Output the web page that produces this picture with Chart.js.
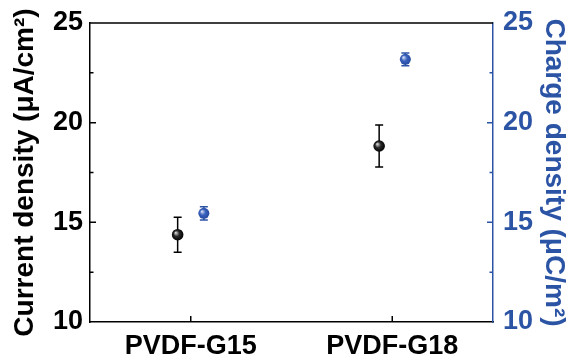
<!DOCTYPE html>
<html>
<head>
<meta charset="utf-8">
<script src="https://cdn.jsdelivr.net/npm/chart.js@4.4.0/dist/chart.umd.min.js"></script>
<style>
  html, body { margin: 0; padding: 0; background: #fff; }
  #wrap { width: 571px; height: 363px; }
</style>
</head>
<body>
<div id="wrap"><canvas id="chart"></canvas></div>
<script>
// values
const categories = ["PVDF-G15", "PVDF-G18"];
const currentDensity = [14.38, 18.83];
const currentError = [0.88, 1.05];
const chargeDensity = [15.45, 23.18];
const chargeError = [0.33, 0.32];
const yTicks = [10, 15, 20, 25];

const BLACK = "#000000";
const BLUE = "#2c54a5";
const SHIFT = 0.065; // side-by-side offset of the two series
const FONT = "'Liberation Sans', Arial, sans-serif";

const minorTicks = yTicks.slice(1).map((v, i) => (v + yTicks[i]) / 2);

function ballColor(light, mid, dark) {
  return function (ctx) {
    const chart = ctx.chart;
    if (!chart.chartArea || !ctx.raw) return mid;
    const yScale = chart.scales[ctx.dataset.yAxisID];
    const px = chart.scales.x.getPixelForValue(ctx.raw.x);
    const py = yScale.getPixelForValue(ctx.raw.y);
    const g = chart.ctx.createRadialGradient(px - 2, py - 2, 0.3, px, py, 6);
    g.addColorStop(0, light);
    g.addColorStop(0.45, mid);
    g.addColorStop(1, dark);
    return g;
  };
}

function fitY(width) {
  return (s) => {
    s.width = width;
    s.paddingTop = 0;
    s.paddingBottom = 0;
  };
}

// error bars, inward ticks and top frame
const extras = {
  id: "extras",
  beforeDatasetsDraw(chart) {
    const c = chart.ctx;
    const x = chart.scales.x;
    chart.data.datasets.forEach((ds) => {
      const ys = chart.scales[ds.yAxisID];
      c.save();
      c.strokeStyle = ds.errColor;
      c.lineWidth = 1.5;
      ds.data.forEach((p, i) => {
        const px = x.getPixelForValue(p.x);
        const top = ys.getPixelForValue(p.y + ds.err[i]);
        const bot = ys.getPixelForValue(p.y - ds.err[i]);
        c.beginPath();
        c.moveTo(px, top); c.lineTo(px, bot);
        c.moveTo(px - 4, top); c.lineTo(px + 4, top);
        c.moveTo(px - 4, bot); c.lineTo(px + 4, bot);
        c.stroke();
      });
      c.restore();
    });
  },
  afterDraw(chart) {
    const c = chart.ctx;
    const a = chart.chartArea;
    const y = chart.scales.y, y1 = chart.scales.y1, x = chart.scales.x;
    c.save();
    c.lineWidth = 1.5;
    c.strokeStyle = BLACK;
    c.beginPath();
    c.moveTo(a.left, a.top); c.lineTo(a.right, a.top);
    yTicks.slice(1, -1).forEach((v) => {
      const py = y.getPixelForValue(v);
      c.moveTo(a.left, py); c.lineTo(a.left + 6, py);
    });
    minorTicks.forEach((v) => {
      const py = y.getPixelForValue(v);
      c.moveTo(a.left, py); c.lineTo(a.left + 3.5, py);
    });
    categories.forEach((_, i) => {
      const px = x.getPixelForValue(i);
      c.moveTo(px, a.bottom); c.lineTo(px, a.bottom - 6);
    });
    c.stroke();
    c.strokeStyle = BLUE;
    c.beginPath();
    yTicks.slice(1, -1).forEach((v) => {
      const py = y1.getPixelForValue(v);
      c.moveTo(a.right, py); c.lineTo(a.right - 6, py);
    });
    minorTicks.forEach((v) => {
      const py = y1.getPixelForValue(v);
      c.moveTo(a.right, py); c.lineTo(a.right - 3.5, py);
    });
    c.stroke();
    c.restore();
  }
};

new Chart(document.getElementById("chart"), {
  type: "scatter",
  data: {
    datasets: [
      {
        label: "Current density",
        yAxisID: "y",
        data: currentDensity.map((v, i) => ({ x: i - SHIFT, y: v })),
        err: currentError,
        errColor: BLACK,
        pointRadius: 5.8,
        pointHoverRadius: 5.8,
        pointBorderWidth: 0,
        pointBackgroundColor: ballColor("#d8d8d8", "#2a2a2a", "#000000")
      },
      {
        label: "Charge density",
        yAxisID: "y1",
        data: chargeDensity.map((v, i) => ({ x: i + SHIFT, y: v })),
        err: chargeError,
        errColor: BLUE,
        pointRadius: 5.5,
        pointHoverRadius: 5.5,
        pointBorderWidth: 0,
        pointBackgroundColor: ballColor("#d6def4", "#3a62bd", "#22479c")
      }
    ]
  },
  options: {
    responsive: true,
    maintainAspectRatio: false,
    animation: false,
    layout: { padding: { top: 23, left: 0, right: 0, bottom: 0 } },
    plugins: { legend: { display: false }, tooltip: { enabled: false } },
    scales: {
      x: {
        type: "linear",
        min: -0.5,
        max: 1.5,
        afterBuildTicks: (s) => { s.ticks = categories.map((_, i) => ({ value: i })); },
        afterFit: (s) => { s.height = 41; s.paddingLeft = 0; s.paddingRight = 0; },
        grid: { display: false, drawTicks: false },
        border: { display: true, color: BLACK, width: 1.5 },
        ticks: {
          color: BLACK,
          padding: 8,
          font: { family: FONT, size: 27, weight: "bold" },
          callback: (v) => categories[v]
        }
      },
      y: {
        position: "left",
        min: 10,
        max: 25,
        afterBuildTicks: (s) => { s.ticks = yTicks.map((v) => ({ value: v })); },
        afterFit: fitY(90),
        grid: { display: false, drawTicks: false },
        border: { display: true, color: BLACK, width: 1.5 },
        ticks: {
          color: BLACK,
          padding: 7,
          font: { family: FONT, size: 27, weight: "bold" }
        },
        title: {
          display: true,
          text: "Current density (μA/cm²)",
          color: BLACK,
          padding: { top: 8, bottom: 0 },
          font: { family: FONT, size: 28, weight: "bold" }
        }
      },
      y1: {
        position: "right",
        min: 10,
        max: 25,
        afterBuildTicks: (s) => { s.ticks = yTicks.map((v) => ({ value: v })); },
        afterFit: fitY(78),
        grid: { display: false, drawTicks: false },
        border: { display: true, color: BLUE, width: 1.5 },
        ticks: {
          color: BLUE,
          padding: 10,
          font: { family: FONT, size: 27, weight: "bold" }
        },
        title: {
          display: true,
          text: "Charge density (μC/m²)",
          color: BLUE,
          padding: { top: 0, bottom: 0 },
          font: { family: FONT, size: 28, weight: "bold" }
        }
      }
    }
  },
  plugins: [extras]
});
</script>
</body>
</html>
